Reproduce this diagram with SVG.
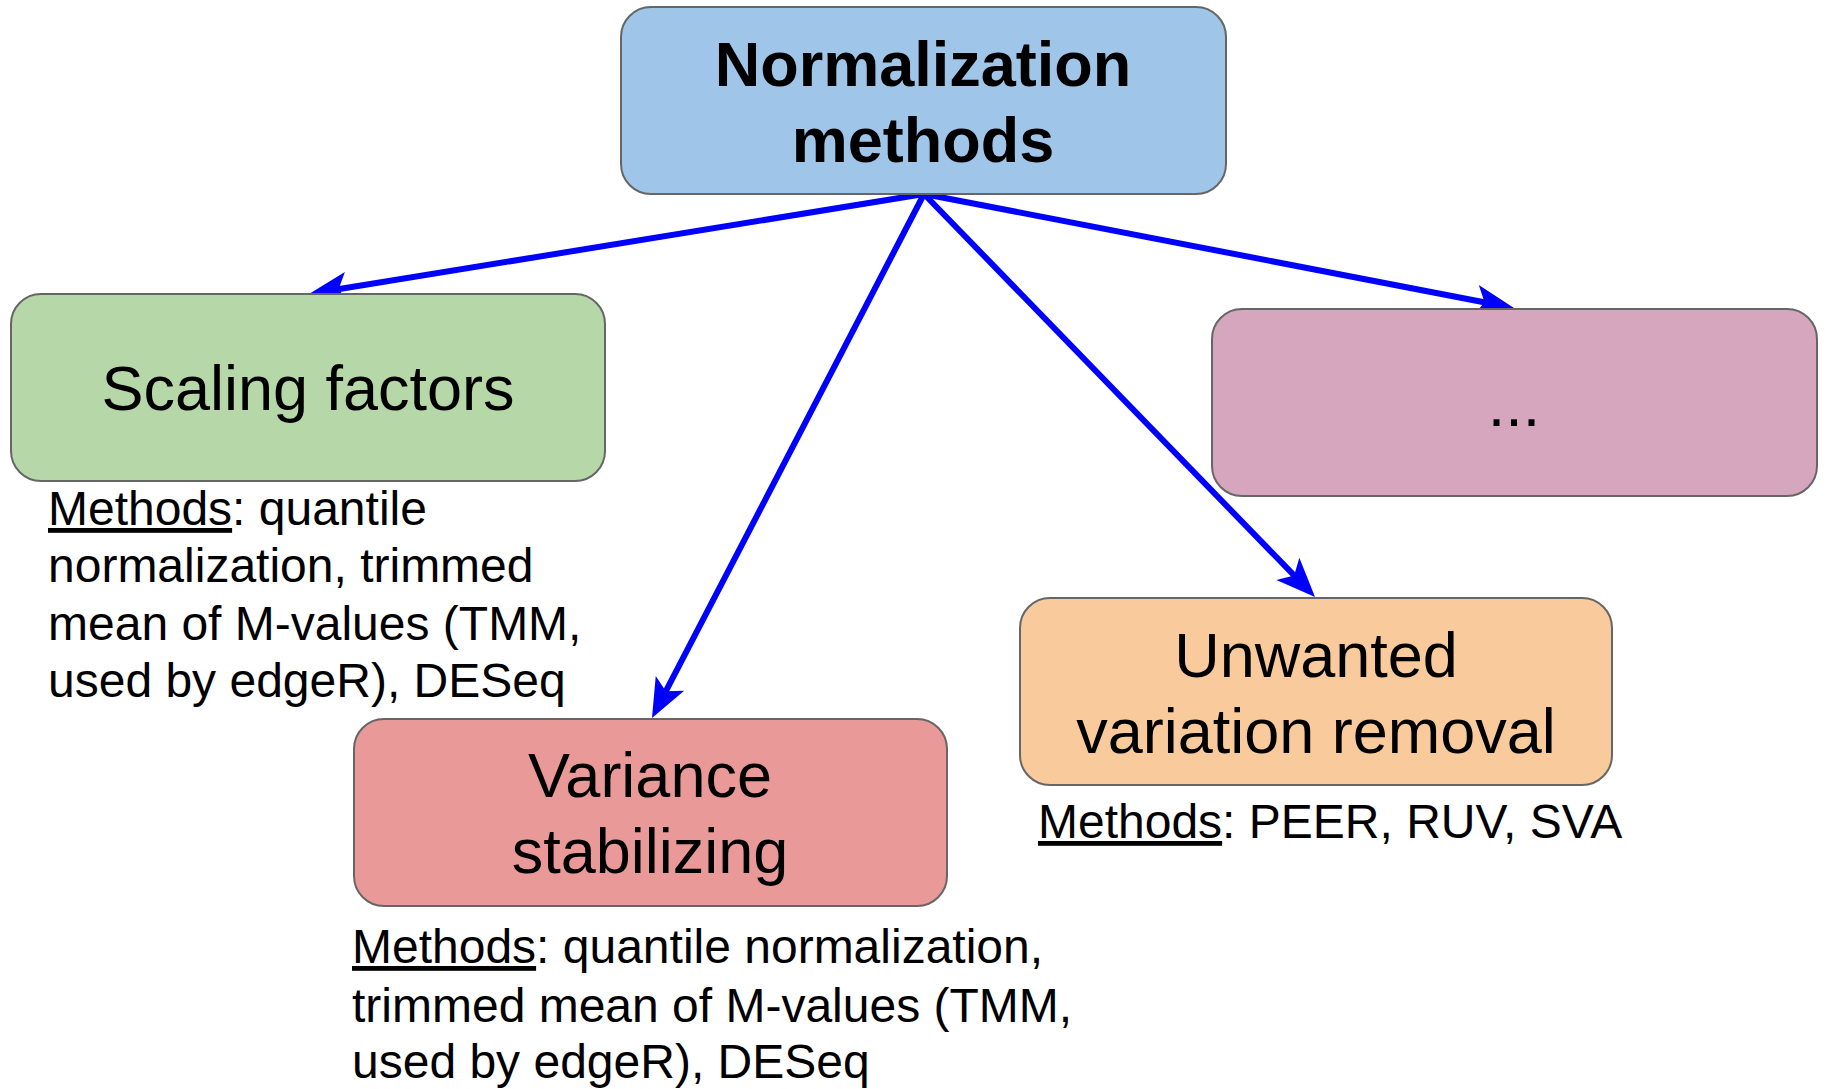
<svg xmlns="http://www.w3.org/2000/svg" width="1828" height="1089" viewBox="0 0 1828 1089">
<style>
.box{stroke:#666666;stroke-width:2}
.lbl{font-family:"Liberation Sans",Arial,sans-serif;font-size:63px;fill:#000;text-anchor:middle}
.ttl{font-weight:bold}
.mth{font-family:"Liberation Sans",Arial,sans-serif;font-size:48px;fill:#000}
.u{text-decoration:underline}
.edge{stroke:#0000ff;stroke-width:6;fill:none;marker-end:url(#ah)}
</style>
<defs>
<marker id="ah" markerUnits="userSpaceOnUse" markerWidth="70" markerHeight="50" viewBox="-30 -25 70 50" refX="0" refY="0" orient="auto">
<path d="M20,0 L-19,-16 L-10,0 L-19,16 Z" fill="#0000ff"/>
</marker>
</defs>
<rect width="1828" height="1089" fill="#ffffff"/>
<g id="connectors">
<line class="edge" x1="924" y1="194" x2="328.7" y2="290.8"/>
<line class="edge" x1="924" y1="194" x2="661.2" y2="700.2"/>
<line class="edge" x1="924" y1="194" x2="1301.1" y2="582.6"/>
<line class="edge" x1="924" y1="194" x2="1494.4" y2="304.2"/>
</g>
<g id="node-normalization">
<rect class="box" x="621" y="7" width="605" height="187" rx="30" fill="#9fc5e8"/>
<text class="lbl ttl" x="923" y="86">Normalization</text>
<text class="lbl ttl" x="923" y="162">methods</text>
</g>
<g id="node-scaling">
<rect class="box" x="11" y="294" width="594" height="187" rx="30" fill="#b6d7a8"/>
<text class="lbl" x="308" y="410">Scaling factors</text>
</g>
<g id="text-scaling-methods">
<text class="mth" x="48" y="525"><tspan class="u">Methods</tspan>: quantile</text>
<text class="mth" x="48" y="582">normalization, trimmed</text>
<text class="mth" x="48" y="640">mean of M-values (TMM,</text>
<text class="mth" x="48" y="697">used by edgeR), DESeq</text>
</g>
<g id="node-variance">
<rect class="box" x="354" y="719" width="593" height="187" rx="30" fill="#ea9999"/>
<text class="lbl" x="650" y="797">Variance</text>
<text class="lbl" x="650" y="873">stabilizing</text>
</g>
<g id="text-variance-methods">
<text class="mth" x="352" y="963"><tspan class="u">Methods</tspan>: quantile normalization,</text>
<text class="mth" x="352" y="1022">trimmed mean of M-values (TMM,</text>
<text class="mth" x="352" y="1078">used by edgeR), DESeq</text>
</g>
<g id="node-unwanted">
<rect class="box" x="1020" y="598" width="592" height="187" rx="30" fill="#f9cb9c"/>
<text class="lbl" x="1316" y="677">Unwanted</text>
<text class="lbl" x="1316" y="753">variation removal</text>
</g>
<g id="text-unwanted-methods">
<text class="mth" x="1038" y="838"><tspan class="u">Methods</tspan>: PEER, RUV, SVA</text>
</g>
<g id="node-other">
<rect class="box" x="1212" y="309" width="605" height="187" rx="30" fill="#d5a6bd"/>
<text class="lbl" x="1514" y="426">...</text>
</g>
</svg>
